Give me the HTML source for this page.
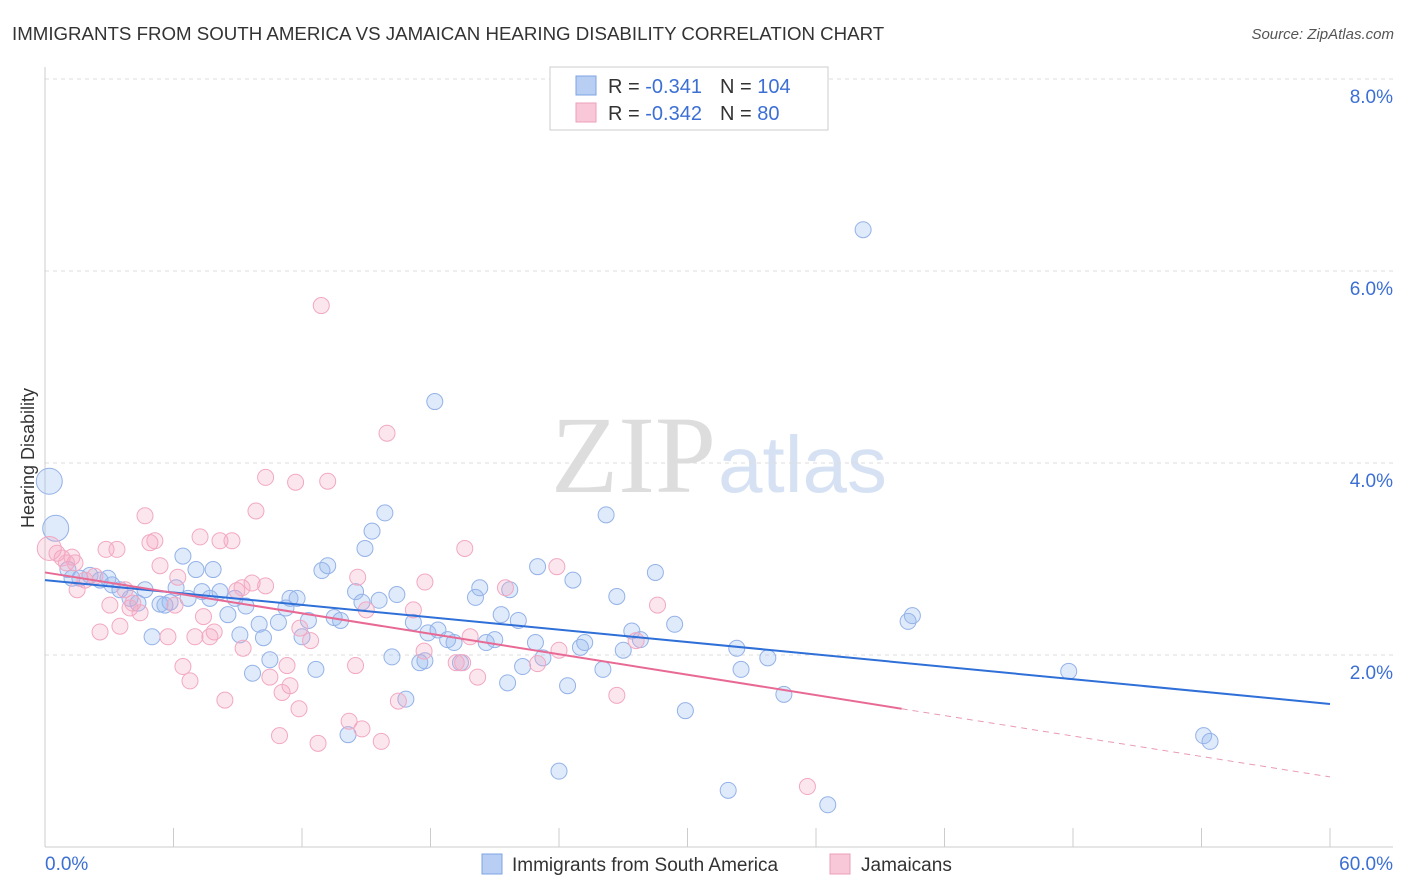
<!DOCTYPE html>
<html><head><meta charset="utf-8"><style>
body{margin:0;background:#fff;font-family:"Liberation Sans",sans-serif;}
svg{display:block}
</style></head><body>
<svg id="c" width="1406" height="892" viewBox="0 0 1406 892">
<text x="12" y="40" font-size="18.7" fill="#333">IMMIGRANTS FROM SOUTH AMERICA VS JAMAICAN HEARING DISABILITY CORRELATION CHART</text>
<text x="1394" y="39" font-size="15" fill="#555" font-style="italic" text-anchor="end">Source: ZipAtlas.com</text>
<text x="716" y="492" font-size="110" fill="#ddd" text-anchor="end" font-family="Liberation Serif,serif">ZIP</text>
<text x="718" y="492" font-size="80" fill="#d6e2f3">atlas</text>
<text x="34" y="458" font-size="18" fill="#333" text-anchor="middle" transform="rotate(-90 34 458)">Hearing Disability</text>
<g id="grid"></g><g id="pts"></g><g id="lines"></g>
<g>
<rect x="550" y="67" width="278" height="63" fill="#fff" stroke="#ccc"/>
<rect x="576" y="76" width="20" height="19" fill="#b8cff3" stroke="#7ea3e0"/>
<rect x="576" y="103" width="20" height="19" fill="#f8c8d8" stroke="#ee9fba"/>
<text x="608" y="93" font-size="20" fill="#333">R = <tspan fill="#3b6fd4"> -0.341</tspan><tspan dx="18">N = </tspan><tspan fill="#3b6fd4">104</tspan></text>
<text x="608" y="120" font-size="20" fill="#333">R = <tspan fill="#3b6fd4"> -0.342</tspan><tspan dx="18">N = </tspan><tspan fill="#3b6fd4">  80</tspan></text>
</g>
<g>
<rect x="482" y="854" width="20" height="20" fill="#b8cff3" stroke="#7ea3e0"/>
<text x="512" y="871" font-size="19" fill="#333">Immigrants from South America</text>
<rect x="830" y="854" width="20" height="20" fill="#f8c8d8" stroke="#ee9fba"/>
<text x="861" y="871" font-size="19" fill="#333">Jamaicans</text>
</g>
</svg>
<script>
const yTicks=[2,4,6,8];
const yTickLabels=["2.0%","4.0%","6.0%","8.0%"];
const xTickLabels=["0.0%","60.0%"];
const blueX=[0.2,0.5,1.07,1.63,2.1,2.57,3.13,3.5,3.97,4.67,5.0,5.37,5.84,6.12,6.44,6.68,7.05,7.33,7.7,7.85,8.17,8.54,8.87,9.1,9.38,9.69,10.0,10.2,10.5,10.9,11.25,11.44,11.77,12.0,12.3,12.65,12.93,13.2,13.5,13.8,14.15,14.5,14.8,14.94,15.27,15.6,15.87,16.2,16.43,16.85,17.2,17.5,17.74,17.88,18.2,18.35,18.8,19.1,19.4,20.1,20.3,20.6,21.0,21.3,21.6,21.7,22.1,22.3,22.9,23.0,23.25,24.0,24.4,24.65,25.0,25.2,26.05,26.2,26.7,27.0,27.4,27.8,28.5,29.4,29.9,31.9,32.3,32.5,33.75,34.5,36.55,38.2,40.3,40.5,47.8,54.1,54.4,1.26,2.94,4.34,5.6];
const blueY=[3.81,3.32,2.89,2.80,2.83,2.78,2.73,2.68,2.59,2.68,2.19,2.53,2.55,2.70,3.03,2.59,2.89,2.66,2.59,2.89,2.66,2.42,2.59,2.21,2.51,1.81,2.32,2.18,1.95,2.34,2.49,2.59,2.59,2.19,2.36,1.85,2.88,2.93,2.39,2.36,1.17,2.66,2.55,3.11,3.29,2.57,3.48,1.98,2.63,1.54,2.34,1.92,1.94,2.23,4.64,2.26,2.16,2.13,1.92,2.60,2.70,2.13,2.16,2.42,1.71,2.68,2.36,1.88,2.13,2.92,1.97,0.79,1.68,2.78,2.08,2.13,1.85,3.46,2.61,2.05,2.25,2.16,2.86,2.32,1.42,0.59,2.07,1.85,1.97,1.59,0.44,6.43,2.35,2.41,1.83,1.16,1.10,2.80,2.80,2.54,2.52];
const pinkX=[0.2,0.56,0.8,1.0,1.26,1.5,1.87,2.33,2.57,2.85,3.03,3.36,3.5,3.74,4.1,4.44,4.67,4.9,5.13,5.37,5.74,6.07,6.2,6.44,6.77,7.0,7.24,7.4,7.7,7.9,8.17,8.4,8.73,8.96,9.25,9.67,9.85,10.3,10.3,10.5,10.95,11.07,11.3,11.44,11.7,11.86,12.4,12.75,12.9,13.2,14.2,14.5,14.6,14.8,15.7,15.97,16.5,17.2,17.7,17.74,19.2,19.5,19.6,19.85,20.2,21.5,23.0,23.9,24.0,26.7,27.6,28.6,35.6,1.4,3.97,9.2,11.9,15.0];
const pinkY=[3.11,3.06,3.01,2.96,3.02,2.68,2.78,2.82,2.24,3.10,2.52,3.10,2.30,2.68,2.54,2.44,3.45,3.17,3.19,2.93,2.19,2.52,2.81,1.88,1.73,2.19,3.23,2.40,2.19,2.24,3.19,1.53,3.19,2.67,2.07,2.75,3.50,2.72,3.85,1.77,1.16,1.61,1.89,1.68,3.80,1.44,2.15,1.08,5.64,3.81,1.31,1.89,2.81,1.23,1.10,4.31,1.52,2.47,2.04,2.76,1.92,1.92,3.11,2.19,1.77,2.70,1.91,2.92,2.05,1.58,2.15,2.52,0.63,2.96,2.49,2.70,2.28,2.47];
const blueLine=[2.78,1.49];
const pinkLine=[2.86,0.73];
const NS="http://www.w3.org/2000/svg";
const X=v=>45+v*(1285/60), Y=v=>847-v*96;
function mk(t,a,p){const e=document.createElementNS(NS,t);for(const k in a)e.setAttribute(k,a[k]);p.appendChild(e);return e;}
const grid=document.getElementById('grid');
yTicks.forEach((t,i)=>{
 const l=mk('line',{x1:45,x2:1393,y1:Y(t),y2:Y(t),stroke:'#ddd','stroke-dasharray':'4,4'},grid);
 
 
 const tx=mk('text',{x:1393,y:Y(t)+24,'font-size':19,fill:'#3b6fd4','text-anchor':'end'},grid);tx.textContent=yTickLabels[i];
 
 
});
mk('line',{x1:45,x2:45,y1:67,y2:847,stroke:'#ccc'},grid);
mk('line',{x1:45,x2:1393,y1:847,y2:847,stroke:'#ccc'},grid);
for(let i=0;i<=10;i++){const t=mk('line',{x1:X(i*6),x2:X(i*6),y1:828,y2:847,stroke:'#ccc'},grid);
 
 }
const xl0=mk('text',{x:45,y:870,'font-size':19,fill:'#3b6fd4'},grid);xl0.textContent=xTickLabels[0];


const xl1=mk('text',{x:1393,y:870,'font-size':19,fill:'#3b6fd4','text-anchor':'end'},grid);xl1.textContent=xTickLabels[1];


const pts=document.getElementById('pts');
blueX.forEach((x,i)=>{const r=i<2?13:8;const c=mk('circle',{cx:X(x),cy:Y(blueY[i]),r:r,fill:'rgba(150,185,240,0.3)',stroke:'#94b2e8','stroke-width':1},pts);
 
 });
pinkX.forEach((x,i)=>{const r=i<1?12:8;const c=mk('circle',{cx:X(x),cy:Y(pinkY[i]),r:r,fill:'rgba(245,165,195,0.28)',stroke:'#f2a8c2','stroke-width':1},pts);
 
 });
const lines=document.getElementById('lines');
const bl=mk('line',{x1:X(0),y1:Y(blueLine[0]),x2:X(60),y2:Y(blueLine[1]),stroke:'#2f6fd8','stroke-width':2},lines);


const pAt=x=>pinkLine[0]+(pinkLine[1]-pinkLine[0])*x/60;
const pl=mk('line',{x1:X(0),y1:Y(pAt(0)),x2:X(40),y2:Y(pAt(40)),stroke:'#e86a94','stroke-width':2},lines);


const pd=mk('line',{x1:X(40),y1:Y(pAt(40)),x2:X(60),y2:Y(pAt(60)),stroke:'#e99ab4','stroke-width':1,'stroke-dasharray':'6,5'},lines);


</script>
</body></html>
